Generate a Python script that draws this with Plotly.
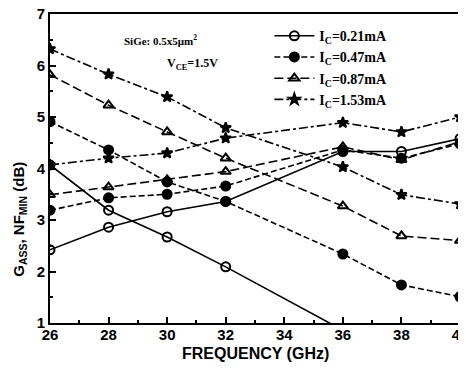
import plotly.graph_objects as go

freq = [26, 28, 30, 32, 36, 38, 40]

gass_021 = [4.07, 3.19, 2.67, 2.09, 0.86, None, None]
gass_047 = [4.91, 4.36, 3.74, 3.36, 2.34, 1.74, 1.51]
gass_087 = [5.82, 5.23, 4.71, 4.20, 3.27, 2.69, 2.60]
gass_153 = [6.32, 5.83, 5.39, 4.79, 4.03, 3.49, 3.31]

nf_021 = [2.42, 2.86, 3.16, 3.36, 4.33, 4.33, 4.58]
nf_047 = [3.19, 3.43, 3.50, 3.66, 4.36, 4.20, 4.48]
nf_087 = [3.49, 3.64, 3.78, 3.94, 4.42, 4.17, 4.52]
nf_153 = [4.07, 4.20, 4.30, 4.59, 4.89, 4.71, 5.00]

labels = ["I<sub>C</sub>=0.21mA", "I<sub>C</sub>=0.47mA",
          "I<sub>C</sub>=0.87mA", "I<sub>C</sub>=1.53mA"]

styles = [
    dict(symbol="circle-open", dash="solid", size=9),
    dict(symbol="circle", dash="6px,3px", size=9),
    dict(symbol="triangle-up-open", dash="9px,4px", size=9),
    dict(symbol="star", dash="9px,3px,3px,3px", size=8),
]

gass = [gass_021, gass_047, gass_087, gass_153]
nf = [nf_021, nf_047, nf_087, nf_153]

fig = go.Figure()
for i in range(4):
    st = styles[i]
    for j, ys in enumerate([gass[i], nf[i]]):
        fig.add_trace(go.Scatter(
            x=freq, y=ys, mode="lines+markers",
            name=labels[i], legendgroup=str(i), showlegend=(j == 0),
            line=dict(color="black", width=1.6, dash=st["dash"]),
            marker=dict(symbol=st["symbol"], size=st["size"], color="black",
                        line=dict(color="black", width=2)),
        ))

axis_common = dict(
    showgrid=False, zeroline=False, showline=True, linecolor="black",
    linewidth=2, mirror=True, ticks="inside", ticklen=6, tickwidth=1.5,
    tickcolor="black", ticklabeloverflow="allow", automargin=False,
    tickfont=dict(family="Liberation Sans", size=15, color="black", weight="bold"),
)

fig.update_xaxes(range=[26, 40], dtick=2, tick0=26, ticklabelstandoff=-3,
                 minor=dict(dtick=1, ticks="inside", ticklen=3, tickcolor="black"),
                 **axis_common)
fig.update_yaxes(range=[1, 7], dtick=1,
                 minor=dict(dtick=0.5, ticks="inside", ticklen=3, tickcolor="black"),
                 **axis_common)

fig.add_annotation(text="FREQUENCY (GHz)", xref="paper", yref="paper",
                   x=0.5, xanchor="center", y=-0.1, yanchor="middle", showarrow=False,
                   font=dict(family="Liberation Sans", size=16, color="black", weight="bold"))
fig.add_annotation(text="G<sub>ASS</sub>, NF<sub>MIN</sub> (dB)", xref="paper", yref="paper",
                   x=-0.075, xanchor="center", y=0.335, yanchor="middle",
                   showarrow=False, textangle=-90,
                   font=dict(family="Liberation Sans", size=15, color="black", weight="bold"))
fig.add_annotation(text="SiGe: 0.5x5μm<sup>2</sup>", xref="paper", yref="paper",
                   x=0.175, xanchor="left", y=0.916, yanchor="middle", showarrow=False,
                   font=dict(family="Liberation Serif", size=11, color="black", weight="bold"))
fig.add_annotation(text="V<sub>CE</sub>=1.5V", xref="paper", yref="paper",
                   x=0.28, xanchor="left", y=0.838, yanchor="middle", showarrow=False,
                   font=dict(family="Liberation Serif", size=12, color="black", weight="bold"))

# page body has an 8px margin: size the figure so the plot area lands at x 50-460, y 14-323
fig.update_layout(
    width=458, height=360,
    margin=dict(l=42, r=6, t=6, b=45, autoexpand=False),
    paper_bgcolor="white", plot_bgcolor="white",
    legend=dict(x=0.535, y=0.98, xanchor="left", yanchor="top",
                bgcolor="rgba(0,0,0,0)",
                font=dict(family="Liberation Serif", size=14, color="black", weight="bold"),
                tracegroupgap=0, itemwidth=40),
)

fig.write_html("out.html")
